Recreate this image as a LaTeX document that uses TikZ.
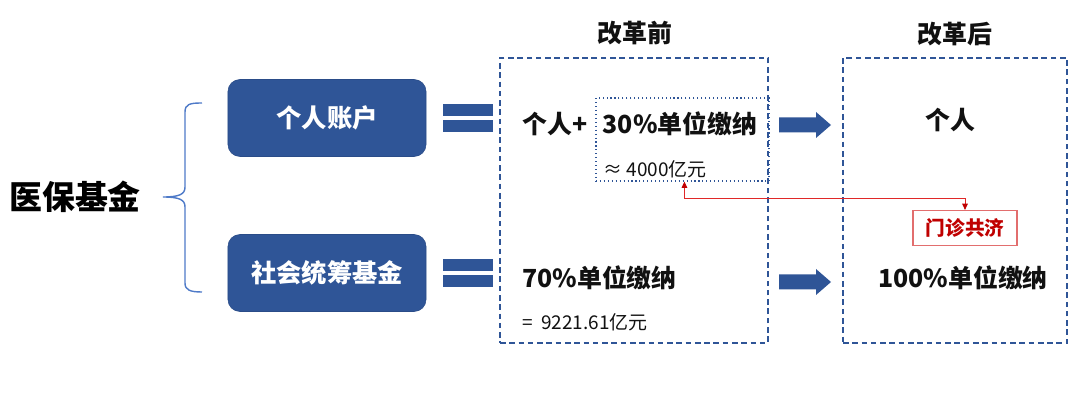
\documentclass[tikz,border=0pt]{standalone}
\usepackage{fontspec}
\setmainfont{Noto Sans CJK SC}
\usepackage{tikz}
\usetikzlibrary{calc,fit,arrows.meta}
\definecolor{FundBlue}{RGB}{47,85,151}
\definecolor{FundBrace}{RGB}{78,122,200}
\definecolor{FundRed}{RGB}{192,0,0}
\definecolor{FundRedLine}{RGB}{224,40,40}
\definecolor{FundRedBox}{RGB}{226,110,110}
\definecolor{FundText}{RGB}{17,17,17}
\tikzset{
  fundbox/.style={draw=FundBlue!90!black,fill=FundBlue,rounded corners=0.3cm,
    minimum width=4.95cm,minimum height=1.925cm,text=white,
    font=\fontsize{18}{20}\selectfont\bfseries},
  stagebox/.style={draw=FundBlue,line width=1pt,dash pattern=on 4pt off 2.6pt,inner sep=0pt},
  bigtext/.style={text=FundText,inner sep=0pt,font=\fontsize{17.7}{20}\selectfont\bfseries},
  smalltext/.style={text=FundText,inner sep=0pt,font=\fontsize{13.5}{16}\selectfont},
  redlink/.style={FundRedLine,line width=0.6pt,{Triangle[length=4.5pt,width=4pt,color=FundRed]}-{Triangle[length=4.5pt,width=4pt,color=FundRed]}}
}

\begin{document}
\begin{tikzpicture}[x=0.025cm,y=-0.025cm]
  \useasboundingbox (0,0) rectangle (1080,400);
  % left side
  \node[text=black,font=\fontsize{23.4}{26}\selectfont\bfseries] (fund) at (75,197) {医保基金};
  \draw[FundBrace,line width=1pt]
    (202,103) .. controls (190,103) and (185,104) .. (185,112) -- (185,187)
    .. controls (185,194) and (180,197) .. (163,197)
    .. controls (180,197) and (185,200) .. (185,207) -- (185,283)
    .. controls (185,290) and (190,292) .. (202,292);
  \node[fundbox] (personal) at (327,118) {个人账户};
  \node[fundbox] (pool) at (327,273) {社会统筹基金};
  \foreach \y in {104,259} {
    \fill[FundBlue] (443,\y) rectangle (493,\y+12);
    \fill[FundBlue] (443,\y+16) rectangle (493,\y+28);
  }
  % before
  \node[text=FundText,font=\fontsize{17.7}{20}\selectfont\bfseries] (beforetitle) at (635,33) {改革前};
  \node[stagebox,fit={(500,58) (768,343)}] (before) {};
  \node[draw=FundBlue,line width=0.8pt,dotted,inner sep=0pt,fit={(596,98) (769,181)}] (share) {};
  \node[bigtext,anchor=west] (selfplus) at (522,124) {个人+};
  \node[bigtext] (thirty) at (680,124) {30\%单位缴纳};
  \node[smalltext,anchor=west] (approx) at (603,169) {≈\ 4000亿元};
  \node[bigtext,anchor=west] (seventy) at (522,278) {70\%单位缴纳};
  \node[smalltext,anchor=west] (equal) at (522,322) {=\ \ 9221.61亿元};
  \foreach \y in {125,282} {
    \fill[FundBlue] (779,\y-7.5) -- (816,\y-7.5) -- (816,\y-13) -- (831,\y)
      -- (816,\y+13) -- (816,\y+7.5) -- (779,\y+7.5) -- cycle;
  }
  % after
  \node[text=FundText,font=\fontsize{17.7}{20}\selectfont\bfseries] (aftertitle) at (955,34) {改革后};
  \node[stagebox,fit={(843,58) (1067,343)}] (after) {};
  \node[bigtext] (self) at (950,120) {个人};
  \node[draw=FundRedBox,line width=0.8pt,fill=white,text=FundRed,minimum width=2.6cm,
    minimum height=0.875cm,font=\fontsize{14}{16}\selectfont\bfseries] (gongji) at (965,228) {门诊共济};
  \node[bigtext] (hundred) at (963,278) {100\%单位缴纳};
  \draw[redlink] ($(share.south west)+(89,0)$) -- ++(0,17) -| (gongji.north);
\end{tikzpicture}
\end{document}
